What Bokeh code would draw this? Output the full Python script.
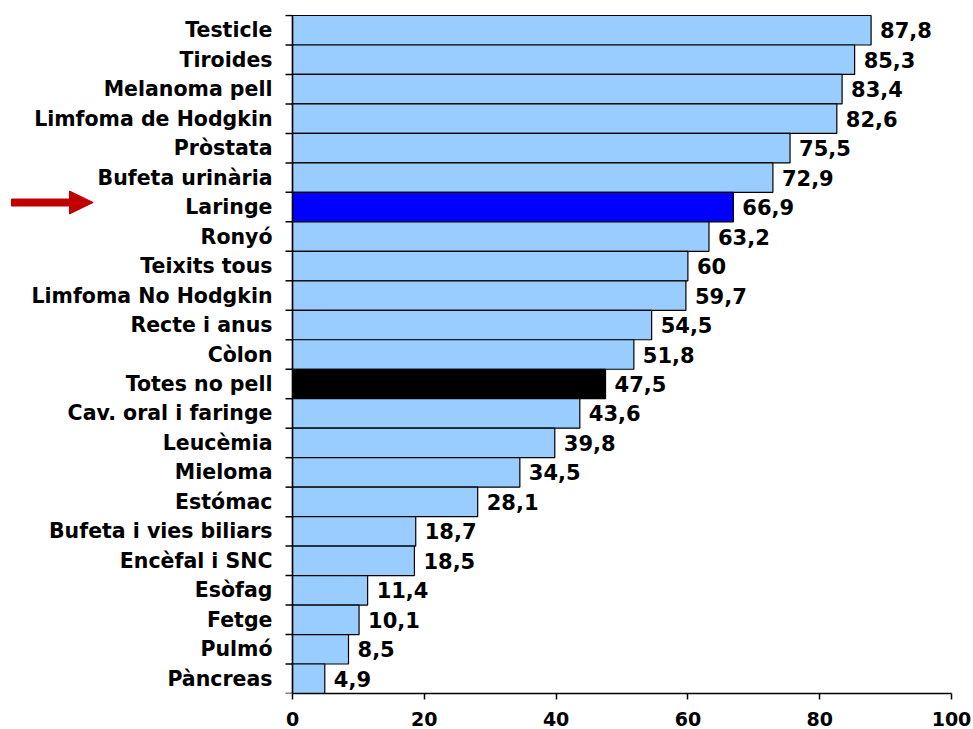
import math
from bokeh.plotting import figure
from bokeh.models import Range1d, FixedTicker, ColumnDataSource
from bokeh.core.properties import value
from bokeh.embed import file_html
from bokeh.resources import INLINE

categories = ["Testicle", "Tiroides", "Melanoma pell", "Limfoma de Hodgkin", "Pròstata",
              "Bufeta urinària", "Laringe", "Ronyó", "Teixits tous", "Limfoma No Hodgkin",
              "Recte i anus", "Còlon", "Totes no pell", "Cav. oral i faringe", "Leucèmia",
              "Mieloma", "Estómac", "Bufeta i vies biliars", "Encèfal i SNC", "Esòfag",
              "Fetge", "Pulmó", "Pàncreas"]
values = [87.8, 85.3, 83.4, 82.6, 75.5, 72.9, 66.9, 63.2, 60, 59.7, 54.5, 51.8, 47.5,
          43.6, 39.8, 34.5, 28.1, 18.7, 18.5, 11.4, 10.1, 8.5, 4.9]
highlight = {"Laringe": "#0000FF", "Totes no pell": "#000000"}
x_ticks = [0, 20, 40, 60, 80, 100]

FONT = "DejaVu Sans"
n = len(categories)
ypos = [n - 1 - i + 0.5 for i in range(n)]
colors = [highlight.get(c, "#99CCFF") for c in categories]
vlabels = [f"{v:g}".replace(".", ",") for v in values]

src = ColumnDataSource(dict(y=ypos, v=values, c=colors, lab=vlabels, cat=categories))

# the frame is extended to the left so that the category labels and the arrow are
# drawn inside it; the value axis itself runs from 0 to 100
XMIN = -44.31
YTOP = n + 0.034
p = figure(width=973, height=729, output_backend="svg", toolbar_location=None,
           x_range=Range1d(XMIN, 100), y_range=Range1d(0, YTOP),
           y_axis_location=None,
           min_border_left=0, min_border_right=22, min_border_top=14, min_border_bottom=36)
p.outline_line_color = None
p.grid.visible = False
p.background_fill_color = "white"

p.hbar(y="y", left=0, right="v", height=1, fill_color="c", line_color="black",
       line_width=1.2, source=src)

# value labels
p.text(x="v", y="y", text="lab", source=src, x_offset=9,
       text_baseline="middle", text_align="left", text_font=value(FONT),
       text_font_style="bold", text_font_size="21px", text_color="black")

# category axis: line at 0, ticks at band boundaries, names at band centres
p.segment(x0=0, y0=0, x1=0, y1=n, line_color="black", line_width=1.5)
p.ray(x=[0] * (n + 1), y=list(range(n + 1)), length=7, length_units="screen",
      angle=math.pi, line_color="black", line_width=1.5)
p.text(x=0, y="y", text="cat", source=src, x_offset=-20,
       text_baseline="middle", text_align="right", text_font=value(FONT),
       text_font_style="bold", text_font_size="20.5px", text_color="black")

xax = p.xaxis[0]
xax.ticker = FixedTicker(ticks=x_ticks)
xax.bounds = (0, 100)
xax.major_tick_out = 6
xax.major_tick_in = 0
xax.major_tick_line_color = "black"
xax.minor_tick_line_color = None
xax.major_tick_line_width = 1.5
xax.axis_line_width = 1.5
xax.axis_line_color = "black"
xax.major_label_standoff = 12
xax.major_label_text_font = FONT
xax.major_label_text_font_style = "bold"
xax.major_label_text_font_size = "19px"
xax.major_label_text_color = "black"

# red arrow pointing to Laringe
ly = ypos[categories.index("Laringe")]
arrow_xs = [-42.64, -33.84, -33.84, -30.24, -33.84, -33.84, -42.64]
arrow_dy = [0.275, 0.275, 0.546, 0.156, -0.234, 0.037, 0.037]
p.patch(x=arrow_xs, y=[ly + d for d in arrow_dy], fill_color="#C00000",
        line_color="#C00000", line_width=1)

open("out.html", "w").write(file_html(p, INLINE))
